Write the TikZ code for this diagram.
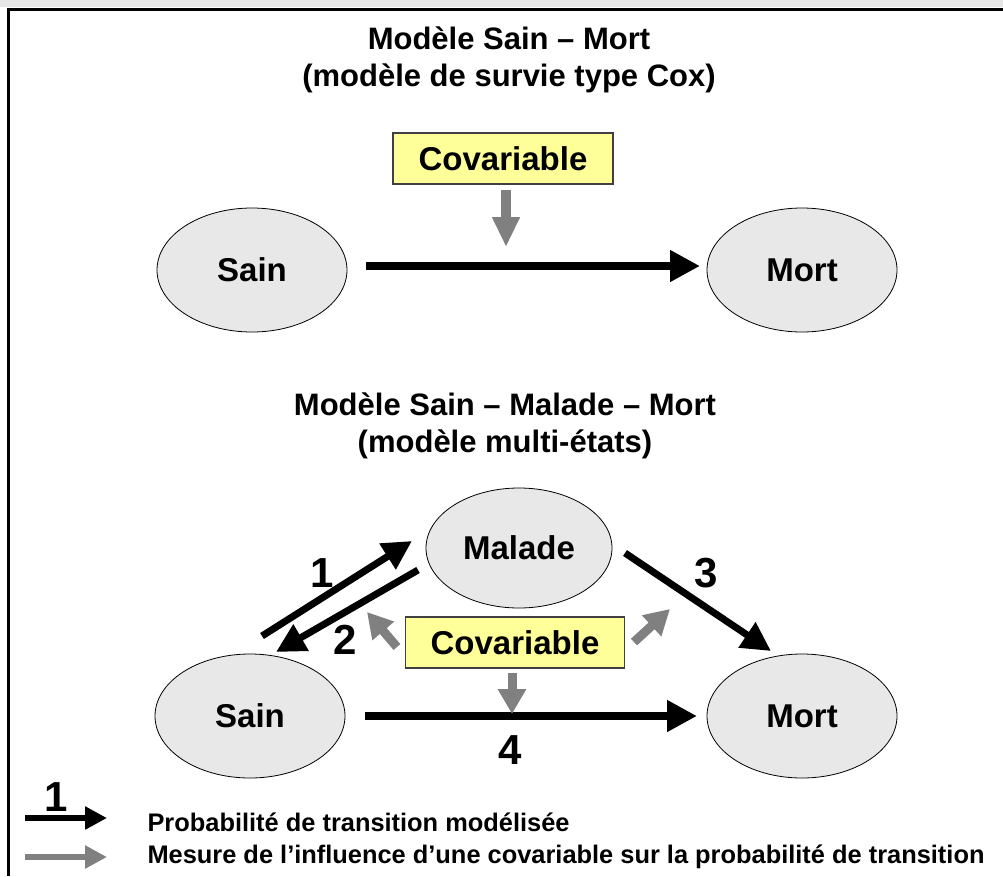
\documentclass[tikz,border=0pt]{standalone}
\usepackage{fontspec}
\setmainfont{Liberation Sans}
\usetikzlibrary{arrows.meta,shapes.geometric}
\definecolor{ellfill}{HTML}{E8E8E8}
\definecolor{covfill}{HTML}{FFFF99}
\definecolor{arrgrey}{HTML}{808080}
\definecolor{bandgrey}{HTML}{E6E6E6}
\tikzset{
  state/.style={ellipse, draw=black, line width=0.8pt, fill=ellfill, minimum width=190pt, minimum height=124pt, inner sep=0pt, font=\fontsize{33}{38}\selectfont\bfseries},
  covbox/.style={rectangle, draw=black!75, line width=1.2pt, fill=covfill, minimum width=220pt, minimum height=51pt, inner sep=0pt, font=\fontsize{33}{38}\selectfont\bfseries},
  titletext/.style={align=center, font=\fontsize{31}{37}\selectfont\bfseries},
  trans/.style={line width=8pt, -{Triangle[length=30pt,width=30pt]}},
  transd/.style={line width=7pt, -{Triangle[length=29pt,width=29pt]}},
  infl/.style={draw=arrgrey, line width=10pt, -{Triangle[length=30pt,width=26pt]}, arrgrey},
  inflsm/.style={draw=arrgrey, line width=9pt, -{Triangle[length=25pt,width=27pt]}, arrgrey},
  numlabel/.style={font=\fontsize{42}{46}\selectfont\bfseries},
  legtext/.style={anchor=west, font=\fontsize{25.4}{30}\selectfont\bfseries}
}
\begin{document}
\begin{tikzpicture}[x=1pt,y=-1pt]
\useasboundingbox (0,0) rectangle (1003,876);
% frame
\fill[bandgrey] (0,0) rectangle (1003,7);
\fill[black] (7,8) rectangle (1003,11);
\fill[black] (7,8) rectangle (10,876);

% top diagram
\node[titletext] (t1) at (509,60) {Modèle Sain – Mort\\(modèle de survie type Cox)};
\node[covbox] (cov1) at (503,158.5) {Covariable};
\node[state] (sain1) at (252,270) {Sain};
\node[state] (mort1) at (802,270) {Mort};
\coordinate (c1a) at (506,190);
\coordinate (c1b) at (506,247);
\coordinate (a1s) at (366,266);
\coordinate (a1e) at (700,266);
\draw[trans] (a1s) -- (a1e);
\draw[infl] (c1a) -- (c1b);

% bottom diagram
\node[titletext] (t2) at (505,426) {Modèle Sain – Malade – Mort\\(modèle multi-états)};
\node[state, minimum width=186pt, minimum height=120pt] (malade) at (519,548) {Malade};
\node[state] (sain2) at (250,716) {Sain};
\node[state] (mort2) at (802,716) {Mort};
\node[covbox, minimum width=219pt] (cov2) at (515,642.5) {Covariable};

\coordinate (p1s) at (262,636);
\coordinate (p1e) at (412,541);
\coordinate (p2s) at (418,570);
\coordinate (p2e) at (276,652);
\coordinate (p3s) at (625,553);
\coordinate (p3e) at (771,651);
\coordinate (p4s) at (365,716);
\coordinate (p4e) at (697,716);
\draw[transd] (p1s) -- (p1e);
\draw[transd] (p2s) -- (p2e);
\draw[transd] (p3s) -- (p3e);
\draw[trans] (p4s) -- (p4e);

\node[numlabel] (n1) at (322,573) {1};
\node[numlabel] (n2) at (345,640) {2};
\node[numlabel] (n3) at (706,573) {3};
\node[numlabel] (n4) at (510,750) {4};

\coordinate (g1s) at (397,647);
\coordinate (g1e) at (367,612);
\coordinate (g2s) at (634,642);
\coordinate (g2e) at (670,609);
\coordinate (g3s) at (512,673);
\coordinate (g3e) at (512,714);
\draw[inflsm] (g1s) -- (g1e);
\draw[inflsm] (g2s) -- (g2e);
\draw[inflsm] (g3s) -- (g3e);

% legend
\node[numlabel] (l1) at (56,797) {1};
\coordinate (lb1) at (25,818);
\coordinate (lb2) at (107,818);
\draw[line width=6pt, -{Triangle[length=22pt,width=22pt]}] (lb1) -- (lb2);
\node[legtext] (lt1) at (144,822) {Probabilité de transition modélisée};
\coordinate (lg1) at (25,857);
\coordinate (lg2) at (107,857);
\draw[arrgrey, line width=6pt, -{Triangle[length=22pt,width=22pt]}] (lg1) -- (lg2);
\node[legtext] (lt2) at (144,857) {Mesure de l’influence d’une covariable sur la probabilité de transition};
\end{tikzpicture}
\end{document}
